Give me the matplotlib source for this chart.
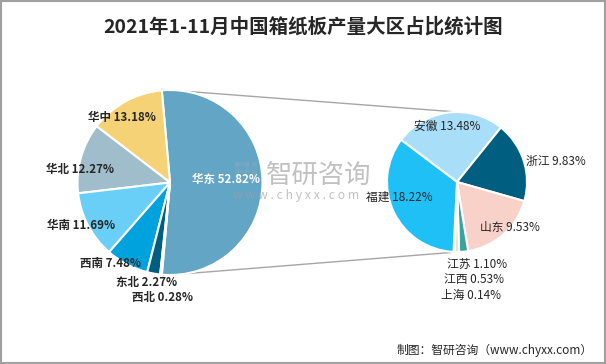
import matplotlib
matplotlib.use('Agg')
import matplotlib.pyplot as plt
from matplotlib.patches import Rectangle

plt.rcParams['font.family'] = ['Noto Sans CJK SC', 'DejaVu Sans']

# main pie: regions
regions = ['华东', '华中', '华北', '华南', '西南', '东北', '西北']
region_share = [52.82, 13.18, 12.27, 11.69, 7.48, 2.27, 0.28]
region_colors = ['#62A5C5', '#F6D277', '#A0BDCB', '#6ACFF6', '#00A2DD', '#005F80', '#CFE3EA']

# secondary pie: provinces inside 华东
provinces = ['安徽', '浙江', '山东', '江苏', '江西', '上海', '福建']
province_share = [13.48, 9.83, 9.53, 1.10, 0.53, 0.14, 18.22]
province_colors = ['#A8DEF7', '#005F80', '#F8D1C9', '#3CA39B', '#E9E2CC', '#F6D277', '#1FC0F6']

W, H = 606, 364
fig = plt.figure(figsize=(W / 100, H / 100), dpi=100)
ax = fig.add_axes([0, 0, 1, 1])

def Y(y):
    return H - y

# left pie, 华东 centered on the right side
left_c = (170, Y(182.5))
left_r = 92.5
start_left = -region_share[0] / 100 * 360 / 2
ax.pie(region_share, colors=region_colors, center=left_c, radius=left_r,
       startangle=start_left, counterclock=True,
       wedgeprops=dict(edgecolor='white', linewidth=1.5))

right_c = (457, Y(182))
right_r = 70
ax.pie(province_share, colors=province_colors, center=right_c, radius=right_r,
       startangle=143, counterclock=False,
       wedgeprops=dict(edgecolor='white', linewidth=1.5))

ax.set_xlim(0, W)
ax.set_ylim(0, H)
ax.set_aspect('auto')
ax.axis('off')

# connector lines
ax.plot([162, 457], [Y(89.5), Y(112)], color='#A6A6A6', lw=1, zorder=0)
ax.plot([163, 457], [Y(275.5), Y(252)], color='#A6A6A6', lw=1, zorder=0)

# watermark (drawn under the labels)
logo_col = '#8FA8C0'
for x0, y0, w, h in [(235, 162, 14, 4), (235, 162, 4, 20), (245, 162, 4, 10),
                     (238, 170, 11, 3), (252, 170, 5, 12), (252, 162, 5, 5)]:
    ax.add_patch(Rectangle((x0, Y(y0 + h)), w, h, color=logo_col, alpha=0.35,
                           lw=0, zorder=3))
ax.text(319, Y(175), '智研咨询', fontsize=19, color='#A0A0A0', alpha=0.65,
        ha='center', va='center', zorder=3)
ax.text(296, Y(195), 'w w w . c h y x x . c o m', fontsize=8.8, color='#A0A0A0',
        alpha=0.65, ha='center', va='center', zorder=3)

# labels
left_pos = [(226, 179), (122, 117), (80, 170), (81, 226), (110, 264), (147, 282), (163, 298)]
for name, v, (x, y) in zip(regions, region_share, left_pos):
    col = 'white' if name == '华东' else '#262626'
    ax.text(x, Y(y), '%s %.2f%%' % (name, v), ha='center', va='center',
            fontsize=8.3, color=col, fontweight='bold', zorder=5)

right_pos = [(447, 126), (556, 161), (510, 228), (477, 264), (474, 280), (471, 295), (399, 197)]
for name, v, (x, y) in zip(provinces, province_share, right_pos):
    ax.text(x, Y(y), '%s %.2f%%' % (name, v), ha='center', va='center',
            fontsize=8.5, color='#262626', zorder=5)

# title and source
ax.text(W / 2, Y(27), '2021年1-11月中国箱纸板产量大区占比统计图', fontsize=14,
        fontweight='bold', color='#262626', ha='center', va='center')
ax.text(593, Y(350), '制图：智研咨询（www.chyxx.com）', fontsize=8.5,
        color='#262626', ha='right', va='center')

ax.add_patch(Rectangle((0.75, 0.75), W - 1.5, H - 1.5, fill=False,
                       edgecolor='#A0A0A0', lw=1.5))

fig.savefig('out.png', dpi=100)
